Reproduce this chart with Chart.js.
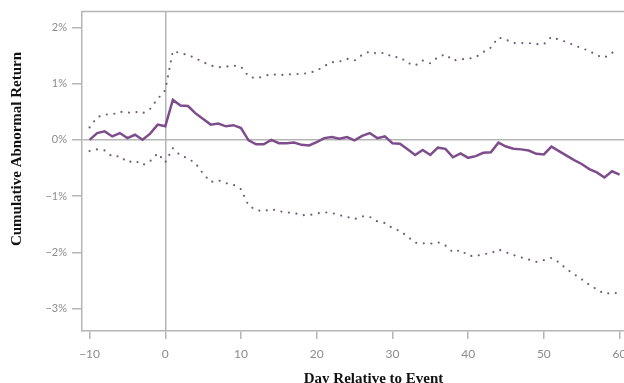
<!DOCTYPE html>
<html>
<head>
<title>Cumulative Abnormal Return</title>
<style>
  html, body { margin: 0; padding: 0; overflow: hidden; background: #fff; }
  #wrap { width: 670px; height: 390px; }
</style>
<script src="https://cdn.jsdelivr.net/npm/chart.js"></script>
</head>
<body>
<div id="wrap"><canvas id="car"></canvas></div>
<script>
// days relative to the event
const days = [-10, -9, -8, -7, -6, -5, -4, -3, -2, -1, 0, 1, 2, 3, 4, 5, 6, 7, 8, 9,
  10, 11, 12, 13, 14, 15, 16, 17, 18, 19, 20, 21, 22, 23, 24, 25, 26, 27, 28, 29,
  30, 31, 32, 33, 34, 35, 36, 37, 38, 39, 40, 41, 42, 43, 44, 45, 46, 47, 48, 49,
  50, 51, 52, 53, 54, 55, 56, 57, 58, 59, 60];

// mean CAR, in percent
const meanCar = [0.00, 0.12, 0.15, 0.06, 0.12, 0.03, 0.09, 0.00, 0.11, 0.27,
  0.24, 0.71, 0.61, 0.60, 0.47, 0.37, 0.27, 0.29, 0.24, 0.26,
  0.21, -0.01, -0.08, -0.08, 0.00, -0.06, -0.06, -0.05, -0.09, -0.10,
  -0.04, 0.03, 0.05, 0.02, 0.05, -0.01, 0.07, 0.12, 0.03, 0.06,
  -0.06, -0.07, -0.17, -0.27, -0.18, -0.27, -0.14, -0.16, -0.31, -0.24,
  -0.32, -0.29, -0.23, -0.22, -0.05, -0.12, -0.16, -0.17, -0.19, -0.25,
  -0.26, -0.12, -0.20, -0.28, -0.36, -0.43, -0.52, -0.58, -0.67, -0.56, -0.62];

// upper and lower confidence bounds
const upperBand = [0.22, 0.40, 0.45, 0.45, 0.50, 0.48, 0.50, 0.47, 0.55, 0.73,
  0.88, 1.58, 1.54, 1.51, 1.45, 1.38, 1.32, 1.29, 1.30, 1.32,
  1.30, 1.13, 1.09, 1.13, 1.17, 1.15, 1.16, 1.17, 1.17, 1.19,
  1.23, 1.31, 1.38, 1.39, 1.44, 1.41, 1.51, 1.57, 1.53, 1.55,
  1.47, 1.47, 1.37, 1.32, 1.41, 1.36, 1.47, 1.52, 1.41, 1.43,
  1.44, 1.47, 1.56, 1.64, 1.82, 1.78, 1.72, 1.72, 1.72, 1.70,
  1.70, 1.83, 1.78, 1.74, 1.68, 1.63, 1.58, 1.50, 1.46, 1.55, 1.55];

const lowerBand = [-0.20, -0.17, -0.19, -0.30, -0.29, -0.40, -0.37, -0.45, -0.38, -0.24,
  -0.40, -0.15, -0.28, -0.33, -0.42, -0.60, -0.75, -0.72, -0.77, -0.80,
  -0.88, -1.17, -1.25, -1.27, -1.23, -1.27, -1.29, -1.30, -1.34, -1.34,
  -1.31, -1.29, -1.30, -1.34, -1.37, -1.41, -1.36, -1.37, -1.45, -1.48,
  -1.57, -1.62, -1.72, -1.83, -1.84, -1.85, -1.82, -1.88, -2.00, -1.96,
  -2.06, -2.07, -2.03, -2.02, -1.95, -2.00, -2.05, -2.09, -2.13, -2.17,
  -2.14, -2.10, -2.18, -2.30, -2.39, -2.48, -2.58, -2.66, -2.74, -2.72, -2.73];

const xTitle = 'Day Relative to Event';
const yTitle = 'Cumulative Abnormal Return';

const axisGray = '#b5b5b5';
const labelGray = '#8c8c8c';
const lineColor = '#7e4d8c';
const dotColor = '#6f5f76';

const minus = v => (v < 0 ? '\u2212' : '') + Math.abs(v);
const toPoints = vals => days.map((d, i) => ({ x: d, y: vals[i] }));

// top frame line and the y title
const frame = {
  id: 'frame',
  afterDraw(chart) {
    const { ctx, chartArea: a } = chart;
    ctx.save();
    ctx.strokeStyle = axisGray;
    ctx.lineWidth = 1.5;
    ctx.beginPath();
    ctx.moveTo(a.left, a.top);
    ctx.lineTo(a.right, a.top);
    ctx.stroke();
    ctx.translate(17, 149);
    ctx.rotate(-Math.PI / 2);
    ctx.font = 'bold 15px "Liberation Serif"';
    ctx.fillStyle = '#111';
    ctx.textAlign = 'center';
    ctx.textBaseline = 'middle';
    ctx.fillText(yTitle, 0, 0);
    ctx.restore();
  }
};

const zeroLine = c => (c.tick && c.tick.value === 0 ? axisGray : 'transparent');

new Chart(document.getElementById('car'), {
  type: 'line',
  data: {
    datasets: [
      {
        label: 'Upper bound',
        data: toPoints(upperBand),
        borderColor: dotColor,
        borderWidth: 2.2,
        borderDash: [0, 7.6],
        borderCapStyle: 'round',
        pointRadius: 0,
        tension: 0
      },
      {
        label: 'Lower bound',
        data: toPoints(lowerBand),
        borderColor: dotColor,
        borderWidth: 2.2,
        borderDash: [0, 7.6],
        borderCapStyle: 'round',
        pointRadius: 0,
        tension: 0
      },
      {
        label: 'Mean CAR',
        data: toPoints(meanCar),
        borderColor: lineColor,
        borderWidth: 2.5,
        pointRadius: 0,
        tension: 0
      }
    ]
  },
  options: {
    responsive: true,
    maintainAspectRatio: false,
    animation: false,
    layout: { padding: { top: 11, right: 5, bottom: 2, left: 0 } },
    plugins: { legend: { display: false }, tooltip: { enabled: false } },
    scales: {
      x: {
        type: 'linear',
        min: -11,
        max: 66,
        afterFit: s => { s.height = 57; },
        border: { color: axisGray, width: 1.5 },
        grid: { color: zeroLine, lineWidth: 1.5, tickColor: axisGray, tickLength: 8 },
        ticks: {
          stepSize: 10,
          includeBounds: false,
          padding: 8,
          color: labelGray,
          font: { family: 'Lato', size: 12 },
          callback: v => minus(v)
        },
        title: {
          display: true,
          text: xTitle,
          color: '#111',
          font: { family: 'Liberation Serif', size: 15, weight: 'bold' },
          padding: { top: 0, bottom: 0 }
        }
      },
      y: {
        min: -3.4,
        max: 2.28,
        afterFit: s => { s.width = 82; },
        border: { color: axisGray, width: 1.5 },
        grid: { color: zeroLine, lineWidth: 1.5, tickColor: axisGray, tickLength: 10 },
        ticks: {
          stepSize: 1,
          includeBounds: false,
          padding: 5,
          color: labelGray,
          font: { family: 'Lato', size: 11 },
          callback: v => minus(v) + '%'
        }
      }
    }
  },
  plugins: [frame]
});
</script>
</body>
</html>
